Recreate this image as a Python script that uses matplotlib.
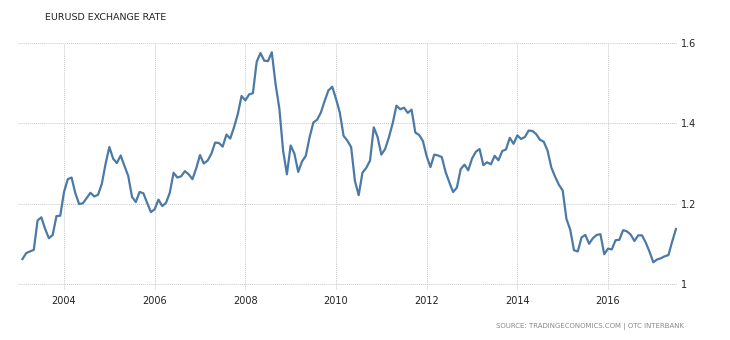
"""
EUR/USD monthly average exchange rate, 2003 to mid 2017.
"""

import matplotlib.pyplot as plt
import numpy as np

# Data
# ----------------------------------------------------------------------------

start_year = 2003   # first value is the January 2003 average

# Monthly average EURUSD rate, one row per year
rate = [
    1.062, 1.077, 1.081, 1.085, 1.158, 1.166, 1.137, 1.114, 1.122, 1.169, 1.170, 1.229,  # 2003
    1.261, 1.265, 1.226, 1.199, 1.201, 1.214, 1.227, 1.218, 1.222, 1.249, 1.299, 1.341,  # 2004
    1.312, 1.301, 1.320, 1.294, 1.269, 1.217, 1.204, 1.229, 1.226, 1.202, 1.179, 1.186,  # 2005
    1.210, 1.194, 1.202, 1.227, 1.277, 1.265, 1.268, 1.281, 1.273, 1.261, 1.288, 1.321,  # 2006
    1.300, 1.307, 1.324, 1.352, 1.351, 1.342, 1.372, 1.362, 1.390, 1.423, 1.468, 1.457,  # 2007
    1.472, 1.475, 1.553, 1.575, 1.556, 1.555, 1.577, 1.498, 1.437, 1.332, 1.273, 1.345,  # 2008
    1.324, 1.279, 1.305, 1.319, 1.365, 1.402, 1.409, 1.427, 1.456, 1.482, 1.491, 1.461,  # 2009
    1.427, 1.369, 1.357, 1.341, 1.257, 1.221, 1.277, 1.289, 1.307, 1.390, 1.366, 1.322,  # 2010
    1.336, 1.365, 1.400, 1.444, 1.435, 1.439, 1.426, 1.434, 1.377, 1.371, 1.356, 1.318,  # 2011
    1.291, 1.322, 1.320, 1.316, 1.279, 1.253, 1.229, 1.240, 1.286, 1.297, 1.283, 1.312,  # 2012
    1.329, 1.336, 1.296, 1.303, 1.298, 1.319, 1.308, 1.331, 1.335, 1.364, 1.349, 1.370,  # 2013
    1.361, 1.366, 1.382, 1.381, 1.373, 1.359, 1.354, 1.332, 1.290, 1.267, 1.247, 1.233,  # 2014
    1.162, 1.135, 1.084, 1.081, 1.116, 1.122, 1.100, 1.114, 1.122, 1.124, 1.074, 1.088,  # 2015
    1.086, 1.109, 1.110, 1.134, 1.131, 1.123, 1.107, 1.121, 1.121, 1.103, 1.080, 1.054,  # 2016
    1.061, 1.064, 1.069, 1.072, 1.106, 1.137,                                            # 2017
]

year_ticks = [2004, 2006, 2008, 2010, 2012, 2014, 2016]
rate_ticks = [1.0, 1.2, 1.4, 1.6]
rate_labels = ['1', '1.2', '1.4', '1.6']

title = 'EURUSD EXCHANGE RATE'
source = 'SOURCE: TRADINGECONOMICS.COM | OTC INTERBANK'

# Plot
# ----------------------------------------------------------------------------

# each monthly value sits at the end of its month
t = start_year + (np.arange(len(rate)) + 1) / 12

fig = plt.figure(figsize=(7.3, 3.4), dpi=100)
ax = fig.add_axes([18 / 730, 50 / 340, 659 / 730, 247 / 340])

ax.plot(t, rate, color='#4a7aa5', lw=1.6, solid_joinstyle='round')

ax.set_xlim(2002.985, 2017.522)
ax.set_ylim(0.985, 1.6)

ax.set_xticks(year_ticks)
ax.set_xticklabels([str(y) for y in year_ticks])
ax.set_yticks(rate_ticks)
ax.set_yticklabels(rate_labels)
ax.yaxis.tick_right()

ax.set_frame_on(False)
ax.set_axisbelow(True)
ax.tick_params(length=0, labelsize=7, labelcolor='#222222')
ax.tick_params(axis='x', pad=4)
ax.tick_params(axis='y', pad=3)
ax.grid(True, color='#c8c8c8', ls=(0, (1, 1)), lw=0.7)

fig.text(45 / 730, 1 - 18 / 340, title, fontsize=6.8, color='#222222',
         va='center', ha='left')
fig.text(684 / 730, 1 - 326 / 340, source, fontsize=5.0, color='#8a8a8a',
         va='center', ha='right')

fig.savefig('out.png', dpi=100)
